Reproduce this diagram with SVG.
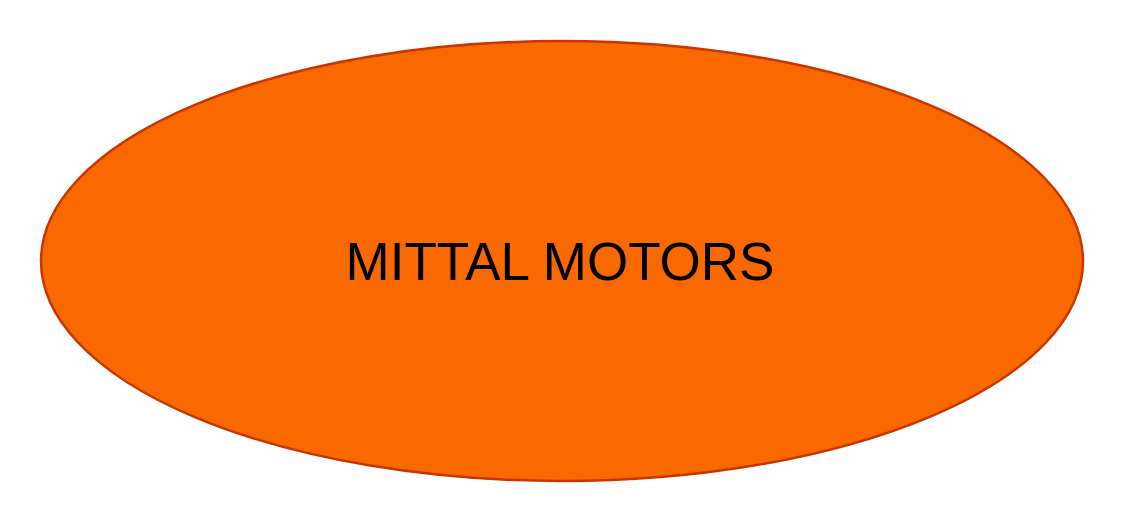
<svg xmlns="http://www.w3.org/2000/svg" width="1124" height="528" viewBox="0 0 1124 528">
<style>
.node-shape{fill:#FA6800;stroke:#C73500;stroke-width:2.5}
.label{font-family:"Liberation Sans",Arial,sans-serif;font-size:53px;fill:#000000;text-anchor:middle}
</style>
<rect width="1124" height="528" fill="#ffffff"/>
<g id="connectors"></g>
<g id="node-mittal-motors">
<ellipse class="node-shape" cx="562" cy="261" rx="521" ry="220"/>
<text class="label" x="560" y="280">MITTAL MOTORS</text>
</g>
</svg>
